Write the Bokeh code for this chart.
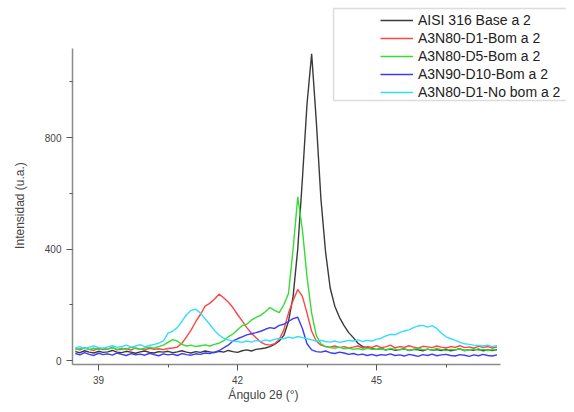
import numpy as np
from bokeh.plotting import figure
from bokeh.models import Legend, LegendItem, FixedTicker, BoxAnnotation, Label, Range1d
from bokeh.embed import file_html
from bokeh.resources import INLINE

# ---- data ----
angle = np.round(np.arange(38.5, 47.65, 0.1), 1)  # 2-theta grid, 92 points

labels = ["AISI 316 Base a 2", "A3N80-D1-Bom a 2", "A3N80-D5-Bom a 2",
          "A3N90-D10-Bom a 2", "A3N80-D1-No bom a 2"]

aisi_base = [32, 28, 35, 30, 27, 33, 29, 31, 36, 30,
             28, 33, 30, 26, 31, 34, 29, 27, 32, 30,
             33, 28, 31, 35, 30, 27, 32, 29, 34, 31,
             28, 33, 30, 36, 32, 29, 35, 38, 34, 40,
             42, 45, 50, 58, 70, 90, 140, 230, 400, 650,
             920, 1100, 860, 580, 390, 260, 195, 155, 125, 100,
             82, 62, 50, 46, 42, 40, 43, 38, 41, 37,
             39, 42, 36, 40, 38, 35, 41, 37, 39, 36,
             40, 35, 38, 42, 36, 39, 37, 41, 35, 38,
             36, 39]

d1_bom = [42, 38, 45, 40, 36, 44, 39, 41, 47, 38,
          40, 43, 37, 45, 41, 38, 44, 40, 42, 39,
          43, 45, 48, 62, 85, 110, 140, 165, 195, 205,
          220, 238, 225, 210, 190, 165, 142, 118, 98, 82,
          66, 58, 55, 60, 75, 110, 170, 215, 255, 230,
          170, 105, 70, 55, 50, 48, 52, 46, 50, 45,
          48, 52, 44, 50, 47, 53, 46, 49, 55, 45,
          50, 47, 53, 48, 44, 51, 49, 46, 52, 48,
          45, 50, 47, 53, 46, 49, 44, 51, 47, 50,
          45, 48]

d5_bom = [38, 42, 45, 40, 44, 39, 43, 41, 46, 40,
          44, 41, 47, 43, 40, 45, 48, 44, 50, 55,
          65, 75, 70, 58, 52, 55, 50, 53, 56, 52,
          58, 62, 70, 85, 95, 110, 125, 130, 145, 155,
          162, 175, 190, 180, 172, 200, 240, 400, 587, 470,
          300, 170, 90, 60, 50, 46, 44, 48, 42, 45,
          40, 43, 38, 44, 41, 39, 42, 37, 43, 40,
          38, 42, 36, 40, 44, 38, 41, 37, 43, 39,
          36, 40, 38, 42, 35, 39, 41, 37, 40, 36,
          39, 37]

d10_bom = [25, 20, 28, 22, 18, 26, 21, 24, 19, 27,
           22, 18, 25, 20, 23, 19, 26, 21, 17, 24,
           20, 23, 18, 25, 21, 19, 24, 22, 27, 25,
           30, 35, 45, 55, 70, 78, 85, 92, 96, 100,
           105, 112, 118, 115, 126, 130, 140, 150, 155, 115,
           60, 38, 32, 30, 34, 28, 25, 30, 27, 22,
           25, 20, 23, 18, 22, 17, 21, 19, 24, 18,
           20, 16, 22, 19, 15, 21, 18, 23, 17, 20,
           22, 18, 16, 21, 19, 15, 20, 17, 22, 18,
           16, 20]

d1_nobom = [45, 50, 42, 48, 52, 46, 44, 49, 53, 47,
            50, 55, 48, 52, 57, 50, 54, 58, 62, 70,
            98, 105, 118, 140, 165, 180, 184, 170, 150, 130,
            108, 92, 80, 74, 70, 68, 65, 70, 66, 72,
            68, 74, 70, 76, 80, 78, 84, 80, 86, 82,
            78, 74, 70, 72, 68, 66, 70, 65, 68, 72,
            70, 74, 68, 72, 70, 76, 80, 88, 94, 92,
            100, 106, 110, 118, 124, 126, 120, 125, 115, 98,
            85, 78, 72, 65, 60, 58, 55, 54, 52, 55,
            50, 53]

x_ticks = [39, 42, 45]
x_minor = [40.5, 43.5, 46.5]
y_ticks = [0, 400, 800]
y_minor = [200, 600, 1000]

series = [aisi_base, d1_bom, d5_bom, d10_bom, d1_nobom]
colors = ["#3a3a3a", "#ff4444", "#33dd33", "#3b3bff", "#33ddff"]

FONT = "Liberation Sans"

X0, X1 = 38.439, 47.68      # extent of the drawn x axis
Y0, Y1 = -14.35, 1119       # extent of the drawn y axis

p = figure(width=566, height=404,
           x_range=Range1d(36.885, 49.10), y_range=Range1d(-157.85, 1291.5),
           output_backend="svg", toolbar_location=None,
           min_border_left=0, min_border_right=0, min_border_top=0, min_border_bottom=0)
p.outline_line_color = None
p.xgrid.visible = False
p.ygrid.visible = False
p.background_fill_color = "white"

renderers = []
for ys, c in zip(series, colors):
    r = p.line(angle, ys, line_color=c, line_width=1.4)
    renderers.append(r)

for ax in (p.xaxis[0], p.yaxis[0]):
    ax.axis_line_color = "#8a8a8a"
    ax.axis_line_width = 1.5
    ax.major_tick_line_color = "#555555"
    ax.minor_tick_line_color = "#555555"
    ax.major_tick_in = 0
    ax.major_tick_out = 6
    ax.minor_tick_in = 0
    ax.minor_tick_out = 3
    ax.major_label_text_font = FONT
    ax.major_label_text_font_size = "10px"
    ax.major_label_text_color = "#444444"
    ax.major_label_standoff = 5

p.xaxis[0].ticker = FixedTicker(ticks=x_ticks, minor_ticks=x_minor)
p.xaxis[0].bounds = (X0, X1)
p.xaxis[0].fixed_location = Y0
p.yaxis[0].ticker = FixedTicker(ticks=y_ticks, minor_ticks=y_minor)
p.yaxis[0].bounds = (Y0, Y1)
p.yaxis[0].fixed_location = X0

# axis titles
p.add_layout(Label(x=42.56, y=-122, text="Ángulo 2θ (°)", text_font=FONT,
                   text_font_size="12px", text_color="#444444",
                   text_align="center", text_baseline="middle"))
p.add_layout(Label(x=37.316, y=556, text="Intensidad (u.a.)", text_font=FONT,
                   text_font_size="12px", text_color="#444444",
                   text_align="center", text_baseline="middle", angle=np.pi / 2))

# legend box
p.add_layout(BoxAnnotation(left=44.072, right=60, top=1262.8, bottom=932.7,
                           fill_alpha=0, line_color="#8a8a8a", line_width=1.5))

items = [LegendItem(label=l, renderers=[r]) for l, r in zip(labels, renderers)]
legend = Legend(items=items, location=(380, 304), padding=0, margin=0, spacing=2,
                glyph_width=33, glyph_height=14, label_height=14, label_standoff=5,
                label_text_font=FONT, label_text_font_size="14px",
                label_text_color="#222222",
                background_fill_alpha=0, border_line_alpha=0)
p.add_layout(legend)

open("out.html", "w").write(file_html(p, INLINE))
